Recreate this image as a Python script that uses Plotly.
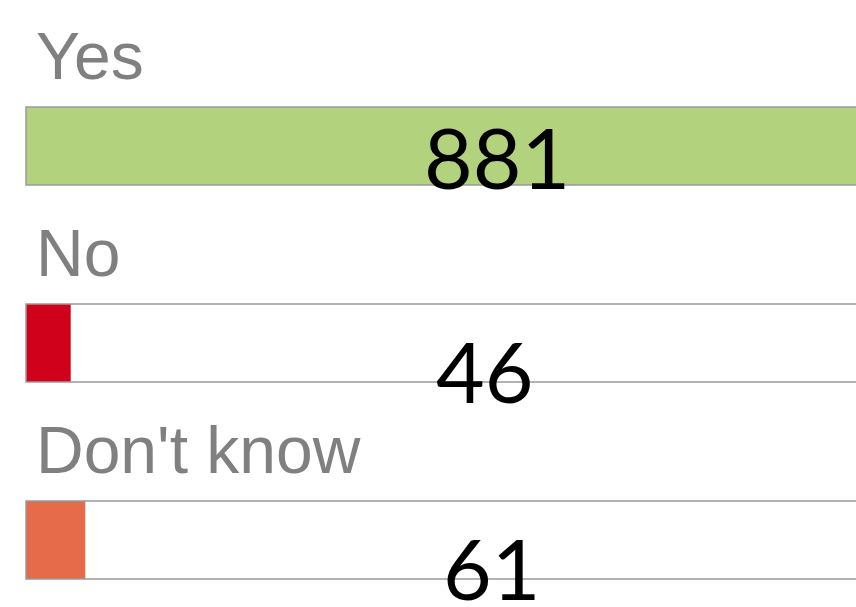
import plotly.graph_objects as go

categories = ["Yes", "No", "Don't know"]
values = [881, 46, 61]
colors = ["#b2d27e", "#d0021b", "#e56b4b"]
total = sum(values)

W, H = 856, 607
px_per_unit = 0.972
left_px = 26
x0 = -left_px / px_per_unit
x1 = (W - left_px) / px_per_unit

row_px = 197
first_center = 146
y_top = -first_center / row_px
y_bot = (H - first_center) / row_px
bar_w = 78 / row_px

fig = go.Figure()
fig.add_trace(go.Bar(
    y=categories, x=values, orientation="h", width=bar_w,
    marker=dict(color=colors, line=dict(width=0)),
    hoverinfo="skip", showlegend=False,
))
fig.add_trace(go.Bar(
    y=categories, x=[total] * len(categories), orientation="h", width=bar_w,
    marker=dict(color="rgba(0,0,0,0)", line=dict(color="#9a9a9a", width=1.5)),
    hoverinfo="skip", showlegend=False,
))

# number positions (page x centre, y shift in px)
num_x = [497, 485, 491]
num_shift = [-10, -27, -27]
for cat, v, nx, ns in zip(categories, values, num_x, num_shift):
    fig.add_annotation(
        x=nx / W, xref="paper", y=cat, yref="y", yshift=ns,
        text=str(v), showarrow=False, xanchor="center", yanchor="middle",
        font=dict(family="Lato", size=84, color="#000000"),
    )
    fig.add_annotation(
        x=0, xref="x", y=cat, yref="y", xshift=8, yshift=51,
        text=cat, showarrow=False, xanchor="left", yanchor="bottom",
        font=dict(family="Liberation Sans", size=66, color="#808080"),
    )

fig.update_layout(
    width=W, height=H, margin=dict(l=0, r=0, t=0, b=0),
    paper_bgcolor="white", plot_bgcolor="white", barmode="overlay",
    xaxis=dict(range=[x0, x1], visible=False),
    yaxis=dict(range=[y_bot, y_top], visible=False, type="category"),
)
fig.write_html(
    "out.html",
    config={"displayModeBar": False},
    post_script="document.body.style.margin='0';document.body.style.overflow='hidden';",
)
